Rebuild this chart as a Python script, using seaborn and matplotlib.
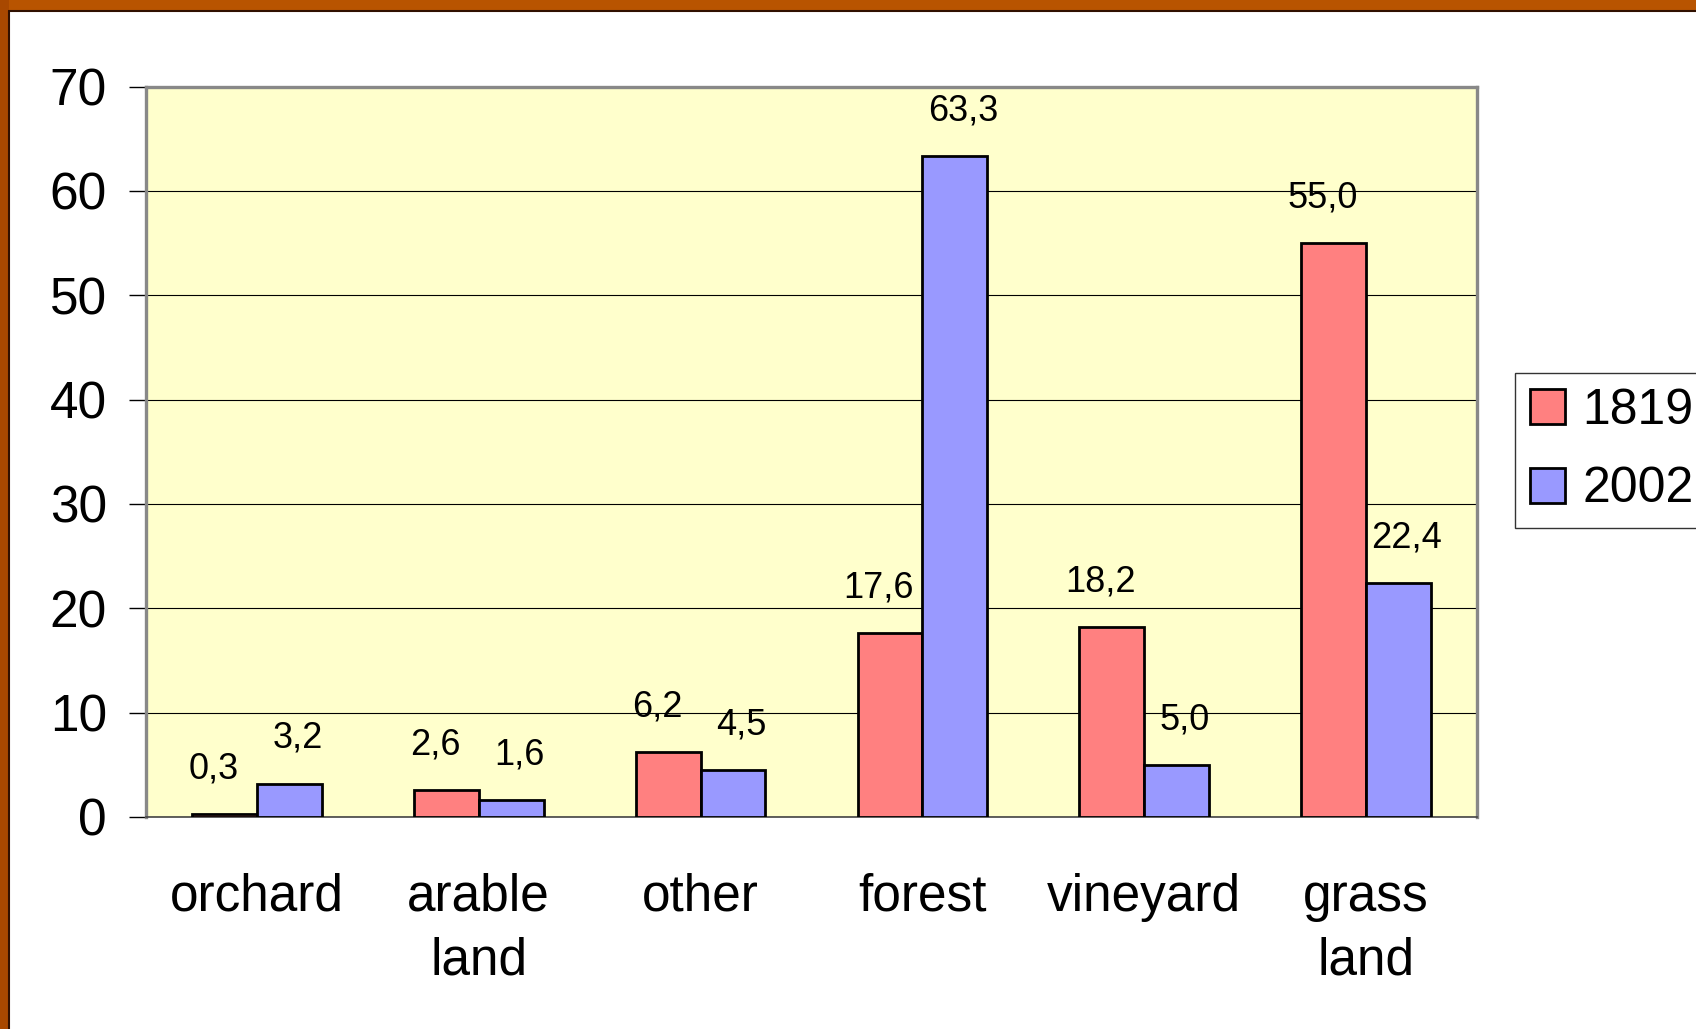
import seaborn as sns
import numpy as np
import pandas as pd
import matplotlib.pyplot as plt
from matplotlib.patches import Rectangle

# land use share (%) per category, two survey years
categories = ["orchard", "arable\nland", "other", "forest", "vineyard", "grass\nland"]
years = ["1819", "2002"]
share_1819 = [0.3, 2.6, 6.2, 17.6, 18.2, 55.0]
share_2002 = [3.2, 1.6, 4.5, 63.3, 5.0, 22.4]
y_ticks = [0, 10, 20, 30, 40, 50, 60, 70]

df = pd.DataFrame({
    "category": categories * 2,
    "year": [years[0]] * len(categories) + [years[1]] * len(categories),
    "share": share_1819 + share_2002,
})

sns.set_style("white")
plt.rcParams["font.family"] = ["Liberation Sans", "DejaVu Sans"]
plt.rcParams["text.color"] = "black"
plt.rcParams["xtick.color"] = "black"
plt.rcParams["ytick.color"] = "black"
plt.rcParams["axes.labelcolor"] = "black"

fig = plt.figure(figsize=(16.96, 10.29), dpi=100)
fig.patch.set_facecolor("white")

# slide frame (orange band top and left)
fig.patches.append(Rectangle((0, 1 - 11 / 1029), 1, 11 / 1029, transform=fig.transFigure,
                             facecolor="#B85400", edgecolor="none", zorder=0))
fig.patches.append(Rectangle((0, 0), 9 / 1696, 1, transform=fig.transFigure,
                             facecolor="#A84800", edgecolor="none", zorder=0))
fig.add_artist(plt.Line2D([9 / 1696, 1], [1 - 11 / 1029] * 2, transform=fig.transFigure,
                          color="#301000", lw=1.5))
fig.add_artist(plt.Line2D([9 / 1696] * 2, [0, 1 - 11 / 1029], transform=fig.transFigure,
                          color="#301000", lw=1.5))

ax = fig.add_axes([146 / 1696, 1 - 817 / 1029, (1477 - 146) / 1696, (817 - 86.5) / 1029])
ax.set_facecolor("#FFFFCC")

sns.barplot(data=df, x="category", y="share", hue="year", order=categories,
            hue_order=years, palette=["#FF8080", "#9999FF"], width=0.585,
            edgecolor="black", linewidth=2.0, saturation=1, ax=ax, zorder=3)

# value labels, nudged outwards a little like the original
for cont, vals, dx in zip(ax.containers, [share_1819, share_2002], [-8, 6]):
    anns = ax.bar_label(cont, labels=[f"{v:.1f}".replace(".", ",") for v in vals],
                        padding=20, fontsize=26, color="black")
    for a in anns:
        a.xyann = (dx, 20)

ax.set_xlim(-0.5, len(categories) - 0.5)
ax.set_ylim(0, 70)
ax.set_yticks(y_ticks)
ax.set_xlabel("")
ax.set_ylabel("")
ax.yaxis.grid(True, color="black", lw=0.8, zorder=0)
ax.set_axisbelow(True)

ax.set_xticks(range(len(categories)))
ax.set_xticklabels(categories, fontsize=37, linespacing=1.4, va="top")
ax.set_xticks(np.arange(-0.5, len(categories), 1), minor=True)
ax.tick_params(axis="x", which="major", length=0, pad=40)
ax.tick_params(axis="x", which="minor", length=13, width=1.2, color="#555555", direction="out")
ax.tick_params(axis="y", labelsize=37, length=12, width=1, color="black", direction="out", pad=16, left=True)

for side in ["top", "right", "left"]:
    ax.spines[side].set_color("#888888")
    ax.spines[side].set_linewidth(2.4)
ax.spines["bottom"].set_color("#444444")
ax.spines["bottom"].set_linewidth(1.2)

leg = ax.legend(loc="upper left", bbox_to_anchor=(1515 / 1696, 1 - 373 / 1029),
                bbox_transform=fig.transFigure, fontsize=36, frameon=True, fancybox=False,
                edgecolor="black", handlelength=0.7, handleheight=0.7, handletextpad=0.35,
                labelspacing=0.65, borderpad=0.3, borderaxespad=0, title=None)
leg.get_frame().set_linewidth(1.0)

fig.savefig("out.png", dpi=100)
